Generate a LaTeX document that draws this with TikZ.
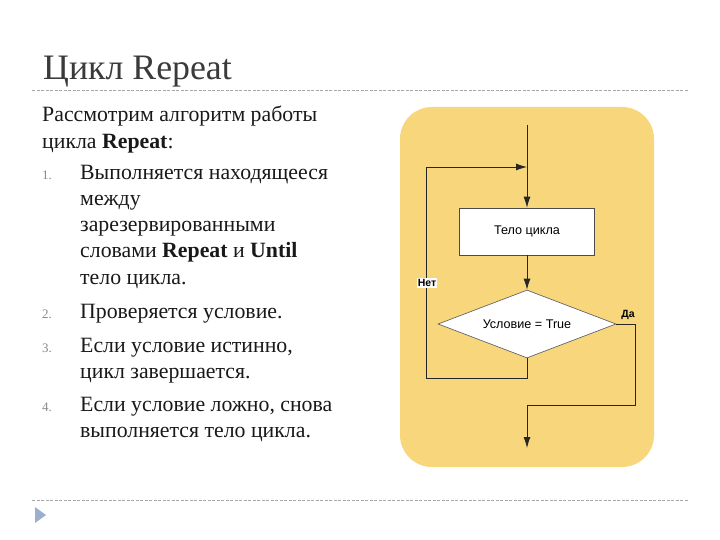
\documentclass[tikz,border=0pt]{standalone}
\usepackage{fontspec}
\setmainfont{Liberation Serif}
\newfontfamily\arialf{Liberation Sans}
\usetikzlibrary{shapes.geometric,arrows.meta}
\definecolor{titlegray}{HTML}{3A3A3A}
\definecolor{ruleg}{HTML}{A8A8A8}
\definecolor{panel}{HTML}{F7D67C}
\definecolor{numg}{HTML}{8A8A8A}
\definecolor{tri}{HTML}{9AB0CC}
\tikzset{
  body/.style={anchor=base west,inner sep=0pt,font=\fontsize{21.8}{24}\selectfont,text=black!90},
  num/.style={anchor=base west,inner sep=0pt,font=\fontsize{13}{15}\selectfont,text=numg},
  flow/.style={draw=black!85,line width=0.8pt},
  arr/.style={flow,-{Latex[length=11pt,width=7pt]}},
  fbox/.style={draw=black!70,fill=white,line width=0.7pt,minimum width=135pt,minimum height=47pt,inner sep=0pt,font=\arialf\fontsize{12.6}{14}\selectfont},
  fdia/.style={diamond,draw=black!60,fill=white,line width=0.7pt,minimum width=178pt,minimum height=68pt,inner sep=0pt,aspect=2.6,font=\arialf\fontsize{12.6}{14}\selectfont},
  lbl/.style={inner sep=1pt,font=\arialf\bfseries\fontsize{10.5}{12}\selectfont}
}
\begin{document}
\begin{tikzpicture}[x=1pt,y=-1pt]
\useasboundingbox (0,0) rectangle (720,540);
\fill[white] (0,0) rectangle (720,540);
% title
\node[anchor=base west,inner sep=0pt,font=\fontsize{35.8}{38}\selectfont,text=titlegray] (title) at (43,80) {Цикл Repeat};
\draw[ruleg,dash pattern=on 3pt off 1.5pt,line width=0.8pt] (32,90) -- (688,90);
\draw[ruleg,dash pattern=on 3pt off 1.5pt,line width=0.8pt] (32,500) -- (688,500);
\fill[tri] (35,507) -- (46,515) -- (35,523) -- cycle;
% body text
\node[body] (t1) at (42,122) {Рассмотрим алгоритм работы};
\node[body] (t2) at (42,149) {цикла \textbf{Repeat}:};
\node[num] (n1) at (42,180) {1.};
\node[body] (a1) at (80,180) {Выполняется находящееся};
\node[body] (a2) at (80,206) {между};
\node[body] (a3) at (80,232) {зарезервированными};
\node[body] (a4) at (80,258) {словами \textbf{Repeat} и \textbf{Until}};
\node[body] (a5) at (80,284) {тело цикла.};
\node[num] (n2) at (42,318) {2.};
\node[body] (b1) at (80,318) {Проверяется условие.};
\node[num] (n3) at (42,352) {3.};
\node[body] (c1) at (80,352) {Если условие истинно,};
\node[body] (c2) at (80,378) {цикл завершается.};
\node[num] (n4) at (42,411) {4.};
\node[body] (d1) at (80,411) {Если условие ложно, снова};
\node[body] (d2) at (80,437) {выполняется тело цикла.};
% panel
\fill[panel,rounded corners=32pt] (400,107) rectangle (654,467);
% flowchart
\node[fbox] (body) at (527,231.5) {Тело цикла};
\node[fdia] (cond) at (527,324) {Условие = True};
\coordinate (start) at (527,125);
\coordinate (join) at (527,167);
\coordinate (nb) at (527,378);
\coordinate (nl) at (426,378);
\coordinate (nt) at (426,167);
\coordinate (yr) at (635,324);
\coordinate (yd) at (635,405);
\coordinate (yl) at (527,405);
\coordinate (fin) at (527,448);
\draw[flow] (start) -- (join);
\draw[arr] (join) -- (body.north);
\draw[arr] (body.south) -- (cond.north);
\draw[flow] (cond.south) -- (nb) -- (nl) -- (nt);
\draw[arr] (nt) -- (join);
\draw[flow] (cond.east) -- (yr) -- (yd) -- (yl);
\draw[arr] (yl) -- (fin);
\node[lbl,fill=white] (no) at (427,283) {Нет};
\node[lbl] (yes) at (628,315) {Да};
\end{tikzpicture}
\end{document}
